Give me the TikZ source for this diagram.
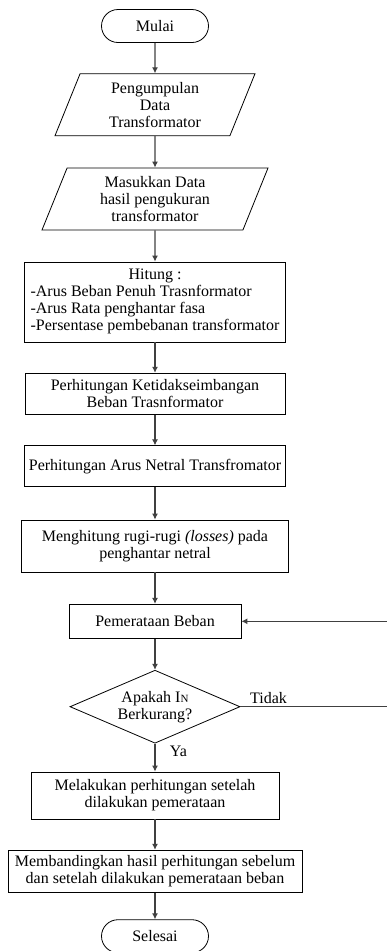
\documentclass[tikz,border=0pt]{standalone}
\usepackage{fontspec}
\setmainfont{Liberation Serif}
\usetikzlibrary{positioning, arrows.meta, shapes.geometric}

\begin{document}
\begin{tikzpicture}[>={Latex[length=6pt,width=6pt]}, x=1pt, y=-1pt,
    every node/.style={font=\fontsize{16}{17}\selectfont, align=center, inner sep=0pt},
    terminal/.style={draw, line width=0.8pt, rounded corners=16.5pt, minimum width=107pt, minimum height=33pt},
    data/.style={draw, line width=0.8pt, trapezium, trapezium left angle=61, trapezium right angle=119,
      trapezium stretches body, minimum height=62pt},
    kotak/.style={draw, line width=0.8pt, rectangle},
    keputusan/.style={draw, line width=0.8pt, diamond, aspect=2.3, minimum width=170pt, minimum height=73pt},
    panah/.style={->, draw=black!75, line width=1.1pt}]
    \useasboundingbox (0,0) rectangle (387,951);
    \clip (0,0) rectangle (387,951);

    \node[terminal] (mulai) at (155,26) {Mulai};
    \node[data, minimum width=200pt] (kumpul) at (155,104.7) {Pengumpulan\\Data\\Transformator};
    \node[data, minimum width=226pt] (masuk) at (155,199) {Masukkan Data\\hasil pengukuran\\transformator};
    \node[kotak, minimum width=261pt, minimum height=80pt] (hitung) at (155,302)
      {\begin{tabular}{@{}l@{}}\multicolumn{1}{@{}c@{}}{Hitung :}\\-Arus Beban Penuh Trasnformator\\
       -Arus Rata penghantar fasa\\-Persentase pembebanan transformator\end{tabular}};
    \node[kotak, minimum width=260pt, minimum height=41pt] (ketidak) at (155,393.7)
      {Perhitungan Ketidakseimbangan\\Beban Trasnformator};
    \node[kotak, minimum width=261pt, minimum height=41pt] (netral) at (155,466.3)
      {Perhitungan Arus Netral Transfromator};
    \node[kotak, minimum width=267pt, minimum height=52pt] (rugi) at (155,546)
      {Menghitung rugi-rugi \textit{(losses)} pada\\penghantar netral};
    \node[kotak, minimum width=172pt, minimum height=34pt] (beban) at (155,621.3) {Pemerataan Beban};
    \node[keputusan] (cek) at (155,706.7) {Apakah I{\fontsize{11}{11}\selectfont N}\\Berkurang?};
    \node[kotak, minimum width=248pt, minimum height=47pt] (setelah) at (155,795.5)
      {Melakukan perhitungan setelah\\dilakukan pemerataan};
    \node[kotak, minimum width=294pt, minimum height=42pt] (banding) at (155,871.2)
      {Membandingkan hasil perhitungan sebelum\\dan setelah dilakukan pemerataan beban};
    \node[terminal] (selesai) at (155,936.2) {Selesai};

    \node (tidak) at (268.5,698) {Tidak};
    \node (ya) at (178.5,751) {Ya};

    \foreach \a/\b in {mulai/kumpul, kumpul/masuk, masuk/hitung, hitung/ketidak, ketidak/netral,
      netral/rugi, rugi/beban, beban/cek, cek/setelah, setelah/banding, banding/selesai}
    \draw[panah] (\a) -- (\b);

    % kembali ke pemerataan beban
    \coordinate (balik) at (395,706.7);
    \draw[panah] (cek) -- (balik) |- (beban);
\end{tikzpicture}
\end{document}
